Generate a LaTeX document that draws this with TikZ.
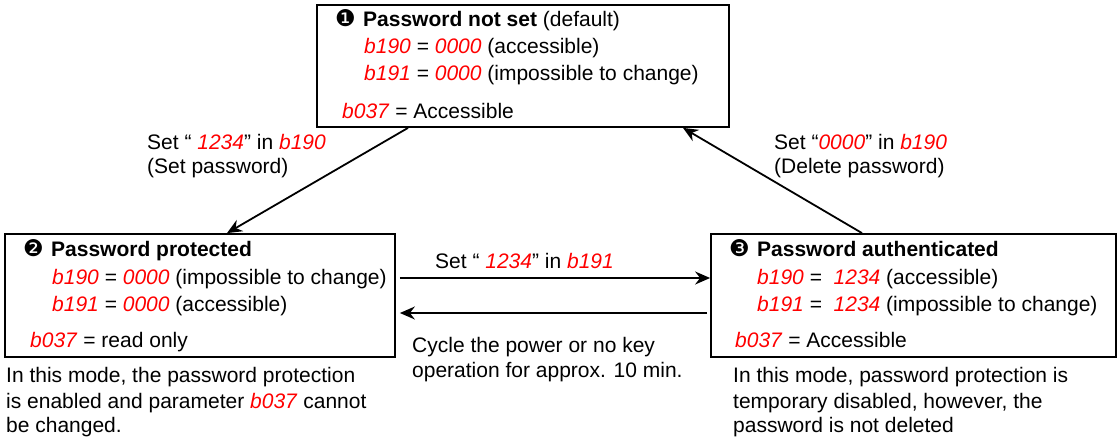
\documentclass[tikz,border=0pt]{standalone}
\usepackage{fontspec}
\setmainfont{Liberation Sans}
\newfontfamily\dejavu{DejaVu Sans}
\usetikzlibrary{arrows.meta}
\newcommand\sg[1]{\textcolor{red}{\textit{#1}}}
\newcommand\cnum[1]{\makebox[28pt][l]{\dejavu\fontsize{23}{23}\selectfont #1}}
\begin{document}
\begin{tikzpicture}[x=1pt,y=-1pt,
  every node/.style={font=\fontsize{21}{25}\selectfont, inner sep=0pt},
  box/.style={draw, line width=1.8pt, inner sep=0pt},
  lbl/.style={anchor=base west},
  arr/.style={line width=1.8pt, -{Stealth[length=15pt,width=13pt,inset=5pt]}}]
\useasboundingbox (0,0) rectangle (1118,441);
% boxes
\node[box, minimum width=412pt, minimum height=122pt] (b1) at (523,66) {};
\node[box, minimum width=390pt, minimum height=123pt] (b2) at (200,295.5) {};
\node[box, minimum width=405pt, minimum height=123pt] (b3) at (913.5,295.5) {};
% box 1 texts
\node[lbl] (t11) at (335,27) {\cnum{❶}\textbf{Password not set} (default)};
\node[lbl] (t12) at (364,54) {\sg{b190} = \sg{0000} (accessible)};
\node[lbl] (t13) at (364,81) {\sg{b191} = \sg{0000} (impossible to change)};
\node[lbl] (t14) at (342,118) {\sg{b037} = Accessible};
% box 2 texts
\node[lbl] (t21) at (23,256) {\cnum{❷}\textbf{Password protected}};
\node[lbl] (t22) at (52,284) {\sg{b190} = \sg{0000} (impossible to change)};
\node[lbl] (t23) at (52,311) {\sg{b191} = \sg{0000} (accessible)};
\node[lbl] (t24) at (30,347) {\sg{b037} = read only};
\node[lbl] (n21) at (6,382) {In this mode, the password protection};
\node[lbl] (n22) at (6,408) {is enabled and parameter \sg{b037} cannot};
\node[lbl] (n23) at (6,432) {be changed.};
% box 3 texts
\node[lbl] (t31) at (729,256) {\cnum{❸}\textbf{Password authenticated}};
\node[lbl] (t32) at (757,284) {\sg{b190} = \ \sg{1234} (accessible)};
\node[lbl] (t33) at (757,311) {\sg{b191} = \ \sg{1234} (impossible to change)};
\node[lbl] (t34) at (735,347) {\sg{b037} = Accessible};
\node[lbl] (n31) at (733,382) {In this mode, password protection is};
\node[lbl] (n32) at (733,408) {temporary disabled, however, the};
\node[lbl] (n33) at (733,432) {password is not deleted};
% connector labels
\node[lbl] (l1a) at (147,149) {Set “ \sg{1234}” in \sg{b190}};
\node[lbl] (l1b) at (147,173) {(Set password)};
\node[lbl] (l2a) at (774,149) {Set “\sg{0000}” in \sg{b190}};
\node[lbl] (l2b) at (774,173) {(Delete password)};
\node[lbl] (l3a) at (435,268) {Set “ \sg{1234}” in \sg{b191}};
\node[lbl] (l4a) at (412,352) {Cycle the power or no key};
\node[lbl] (l4b) at (412,377) {operation for approx. 10 min.};
% connectors
\draw[arr] ([xshift=-115pt]b1.south) -- ([xshift=27pt]b2.north);
\draw[arr] ([xshift=-51.5pt]b3.north) -- ([xshift=160pt]b1.south);
\draw[arr, shorten <=4pt] ([yshift=17.5pt]b2.east) -- ([yshift=17.5pt]b3.west);
\draw[arr, shorten <=3pt, shorten >=4pt] ([yshift=-17.5pt]b3.west) -- ([yshift=-17.5pt]b2.east);
\end{tikzpicture}
\end{document}
